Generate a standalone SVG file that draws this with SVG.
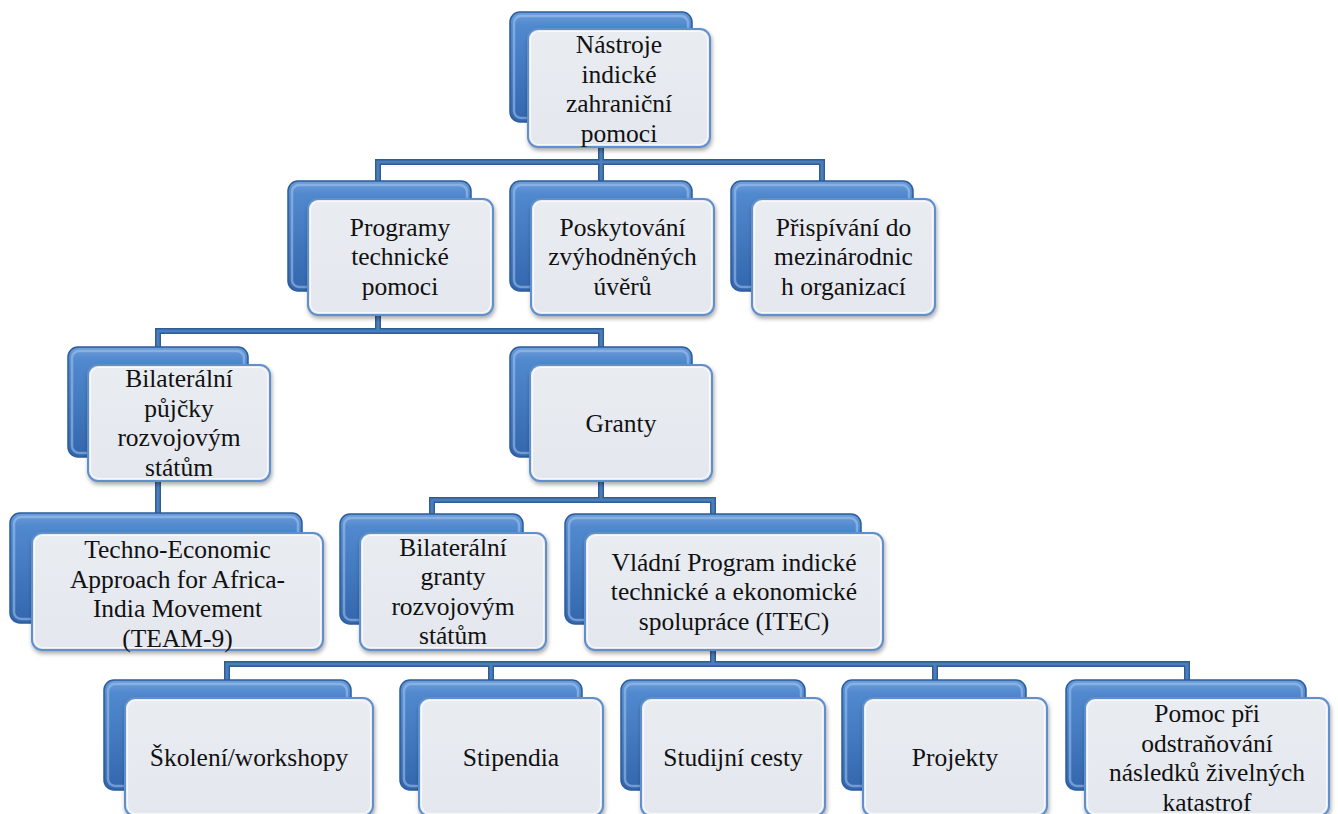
<svg xmlns="http://www.w3.org/2000/svg" width="1338" height="814" viewBox="0 0 1338 814">
<defs>
<linearGradient id="gBack" x1="0" y1="0" x2="0" y2="1">
<stop offset="0" stop-color="#6E9DDA"/>
<stop offset="0.12" stop-color="#5189CE"/>
<stop offset="1" stop-color="#3366AD"/>
</linearGradient>
<linearGradient id="gFront" x1="0" y1="0" x2="0" y2="1">
<stop offset="0" stop-color="#E9ECF1"/>
<stop offset="1" stop-color="#E4E8EE"/>
</linearGradient>
<filter id="sh" x="-10%" y="-10%" width="120%" height="130%">
<feDropShadow dx="1" dy="2.5" stdDeviation="2" flood-color="#000" flood-opacity="0.35"/>
</filter>
</defs>
<style>
.back{fill:url(#gBack);stroke:#2B5C9B;stroke-width:1.5}
.bev{fill:none;stroke:#A6C6EE;stroke-opacity:0.55;stroke-width:2.5}
.front{fill:url(#gFront);stroke:#5E8FCC;stroke-width:2;filter:url(#sh)}
.inner{fill:none;stroke:#FFFFFF;stroke-opacity:0.7;stroke-width:1.2}
.lbl{font-size:25.5px;fill:#111;text-anchor:middle}
.co{fill:none;stroke:#2E5C93;stroke-width:6}
.ci{fill:none;stroke:#4A7DBA;stroke-width:3.2}
</style>
<rect width="1338" height="814" fill="#FFFFFF"/>
<g id="connectors">
<path class="co" d="M601 147V162M378 181V162H822V181M601 162V181M378 315V331M158 347V331H601V347M158 481V514M601 481V500M432 514V500H713V514M713 650V664M227 680V664H1187V680M491 664V680M935 664V680"/>
<path class="ci" d="M601 147V162M378 181V162H822V181M601 162V181M378 315V331M158 347V331H601V347M158 481V514M601 481V500M432 514V500H713V514M713 650V664M227 680V664H1187V680M491 664V680M935 664V680"/>
</g>
<g font-family="'Liberation Serif', 'DejaVu Serif', serif">
<g id="n1">
<rect class="back" x="510" y="12" width="182" height="110" rx="10"/>
<rect class="bev" x="514" y="16" width="174" height="102" rx="7"/>
<rect class="front" x="528" y="29" width="182" height="118" rx="10"/>
<rect class="inner" x="530.5" y="31.5" width="177" height="113" rx="8"/>
<text class="lbl"><tspan x="619" y="53">Nástroje</tspan><tspan x="619" y="82.5">indické</tspan><tspan x="619" y="112">zahraniční</tspan><tspan x="619" y="141.5">pomoci</tspan></text>
</g>
<g id="n2">
<rect class="back" x="288" y="181" width="183" height="110" rx="10"/>
<rect class="bev" x="292" y="185" width="175" height="102" rx="7"/>
<rect class="front" x="308" y="199" width="185" height="116" rx="10"/>
<rect class="inner" x="310.5" y="201.5" width="180" height="111" rx="8"/>
<text class="lbl"><tspan x="400" y="235.5">Programy</tspan><tspan x="400" y="265">technické</tspan><tspan x="400" y="294.5">pomoci</tspan></text>
</g>
<g id="n3">
<rect class="back" x="510" y="181" width="182" height="110" rx="10"/>
<rect class="bev" x="514" y="185" width="174" height="102" rx="7"/>
<rect class="front" x="531" y="199" width="183" height="116" rx="10"/>
<rect class="inner" x="533.5" y="201.5" width="178" height="111" rx="8"/>
<text class="lbl"><tspan x="622.5" y="235.5">Poskytování</tspan><tspan x="622.5" y="265">zvýhodněných</tspan><tspan x="622.5" y="294.5">úvěrů</tspan></text>
</g>
<g id="n4">
<rect class="back" x="731" y="181" width="182" height="110" rx="10"/>
<rect class="bev" x="735" y="185" width="174" height="102" rx="7"/>
<rect class="front" x="752" y="199" width="183" height="116" rx="10"/>
<rect class="inner" x="754.5" y="201.5" width="178" height="111" rx="8"/>
<text class="lbl"><tspan x="843.5" y="235.5">Přispívání do</tspan><tspan x="843.5" y="265">mezinárodnic</tspan><tspan x="843.5" y="294.5">h organizací</tspan></text>
</g>
<g id="n5">
<rect class="back" x="68" y="347" width="180" height="110" rx="10"/>
<rect class="bev" x="72" y="351" width="172" height="102" rx="7"/>
<rect class="front" x="88" y="365" width="182" height="116" rx="10"/>
<rect class="inner" x="90.5" y="367.5" width="177" height="111" rx="8"/>
<text class="lbl"><tspan x="179" y="387">Bilaterální</tspan><tspan x="179" y="416.5">půjčky</tspan><tspan x="179" y="446">rozvojovým</tspan><tspan x="179" y="475.5">státům</tspan></text>
</g>
<g id="n6">
<rect class="back" x="510" y="347" width="182" height="110" rx="10"/>
<rect class="bev" x="514" y="351" width="174" height="102" rx="7"/>
<rect class="front" x="530" y="365" width="182" height="116" rx="10"/>
<rect class="inner" x="532.5" y="367.5" width="177" height="111" rx="8"/>
<text class="lbl"><tspan x="621" y="431.5">Granty</tspan></text>
</g>
<g id="n7">
<rect class="back" x="10" y="513" width="292" height="110" rx="10"/>
<rect class="bev" x="14" y="517" width="284" height="102" rx="7"/>
<rect class="front" x="32" y="533" width="291" height="117" rx="10"/>
<rect class="inner" x="34.5" y="535.5" width="286" height="112" rx="8"/>
<text class="lbl"><tspan x="177.5" y="558">Techno-Economic</tspan><tspan x="177.5" y="587.5">Approach for Africa-</tspan><tspan x="177.5" y="617">India Movement</tspan><tspan x="177.5" y="646.5">(TEAM-9)</tspan></text>
</g>
<g id="n8">
<rect class="back" x="340" y="514" width="183" height="110" rx="10"/>
<rect class="bev" x="344" y="518" width="175" height="102" rx="7"/>
<rect class="front" x="360" y="533" width="186" height="117" rx="10"/>
<rect class="inner" x="362.5" y="535.5" width="181" height="112" rx="8"/>
<text class="lbl"><tspan x="453" y="555.5">Bilaterální</tspan><tspan x="453" y="585">granty</tspan><tspan x="453" y="614.5">rozvojovým</tspan><tspan x="453" y="644">státům</tspan></text>
</g>
<g id="n9">
<rect class="back" x="565" y="514" width="296" height="110" rx="10"/>
<rect class="bev" x="569" y="518" width="288" height="102" rx="7"/>
<rect class="front" x="585" y="533" width="298" height="117" rx="10"/>
<rect class="inner" x="587.5" y="535.5" width="293" height="112" rx="8"/>
<text class="lbl"><tspan x="734" y="570.5">Vládní Program indické</tspan><tspan x="734" y="600">technické a ekonomické</tspan><tspan x="734" y="629.5">spolupráce (ITEC)</tspan></text>
</g>
<g id="n10">
<rect class="back" x="104" y="680" width="247" height="110" rx="10"/>
<rect class="bev" x="108" y="684" width="239" height="102" rx="7"/>
<rect class="front" x="125" y="698" width="248" height="118" rx="10"/>
<rect class="inner" x="127.5" y="700.5" width="243" height="113" rx="8"/>
<text class="lbl"><tspan x="249" y="766">Školení/workshopy</tspan></text>
</g>
<g id="n11">
<rect class="back" x="400" y="680" width="182" height="110" rx="10"/>
<rect class="bev" x="404" y="684" width="174" height="102" rx="7"/>
<rect class="front" x="419" y="698" width="184" height="118" rx="10"/>
<rect class="inner" x="421.5" y="700.5" width="179" height="113" rx="8"/>
<text class="lbl"><tspan x="511" y="766">Stipendia</tspan></text>
</g>
<g id="n12">
<rect class="back" x="621" y="680" width="184" height="110" rx="10"/>
<rect class="bev" x="625" y="684" width="176" height="102" rx="7"/>
<rect class="front" x="641" y="698" width="184" height="118" rx="10"/>
<rect class="inner" x="643.5" y="700.5" width="179" height="113" rx="8"/>
<text class="lbl"><tspan x="733" y="766">Studijní cesty</tspan></text>
</g>
<g id="n13">
<rect class="back" x="842" y="680" width="184" height="110" rx="10"/>
<rect class="bev" x="846" y="684" width="176" height="102" rx="7"/>
<rect class="front" x="863" y="698" width="184" height="118" rx="10"/>
<rect class="inner" x="865.5" y="700.5" width="179" height="113" rx="8"/>
<text class="lbl"><tspan x="955" y="766">Projekty</tspan></text>
</g>
<g id="n14">
<rect class="back" x="1066" y="680" width="240" height="110" rx="10"/>
<rect class="bev" x="1070" y="684" width="232" height="102" rx="7"/>
<rect class="front" x="1085" y="698" width="244" height="118" rx="10"/>
<rect class="inner" x="1087.5" y="700.5" width="239" height="113" rx="8"/>
<text class="lbl"><tspan x="1207" y="722">Pomoc při</tspan><tspan x="1207" y="751.5">odstraňování</tspan><tspan x="1207" y="781">následků živelných</tspan><tspan x="1207" y="810.5">katastrof</tspan></text>
</g>
</g>
</svg>
